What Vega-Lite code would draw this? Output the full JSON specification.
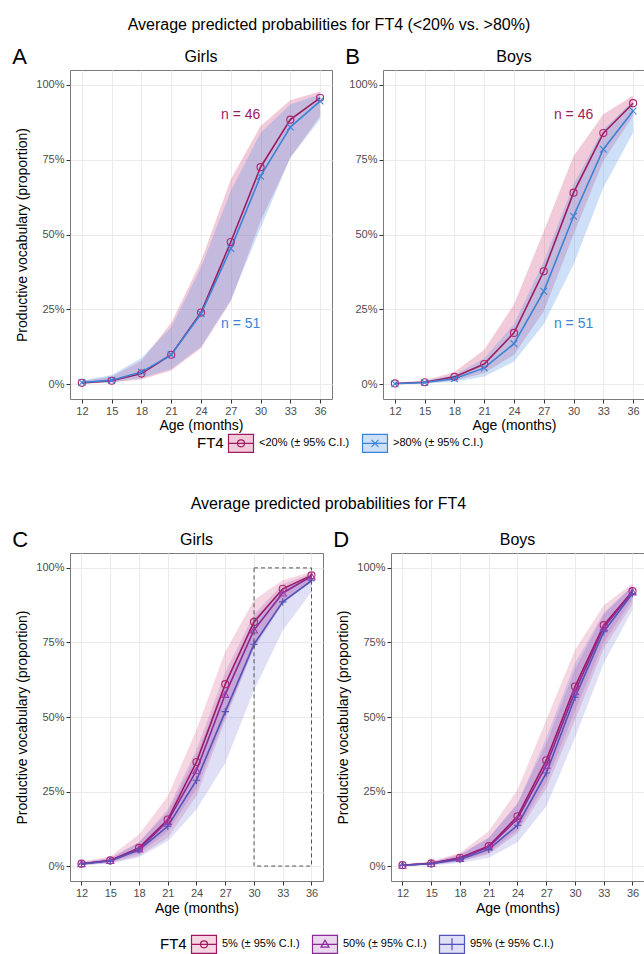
{
  "$schema": "https://vega.github.io/schema/vega-lite/v6.json",
  "background": "white",
  "padding": {"left": 12, "top": 16, "right": 0, "bottom": 0},
  "config": {
    "font": "Liberation Sans",
    "view": {"stroke": "#7a7a7a", "strokeWidth": 1},
    "axis": {
      "labelColor": "#4D4D4D", "labelFontSize": 11, "labelFont": "Liberation Sans",
      "titleFontSize": 14, "titleFontWeight": "normal", "titleColor": "#000000", "titleFont": "Liberation Sans",
      "gridColor": "#EBEBEB", "gridWidth": 1, "domain": false,
      "tickColor": "#333333", "tickSize": 4, "labelPadding": 2, "labelFlush": false, "labelOverlap": false
    },
    "title": {"fontWeight": "normal", "fontSize": 16, "color": "#000000", "font": "Liberation Sans"},
    "legend": {
      "labelFontSize": 11, "labelColor": "#000000", "titleFontSize": 15, "titleFontWeight": "normal",
      "titleColor": "#000000", "symbolSize": 400, "columnPadding": 10, "labelOffset": 7, "titlePadding": 6
    }
  },
  "datasets": {
    "s1": [
      {"sex": "Girls", "group": "<20% (± 95% C.I.)", "age": 12, "est": 0.004, "lo": 0.001, "hi": 0.010},
      {"sex": "Girls", "group": "<20% (± 95% C.I.)", "age": 15, "est": 0.011, "lo": 0.005, "hi": 0.025},
      {"sex": "Girls", "group": "<20% (± 95% C.I.)", "age": 18, "est": 0.035, "lo": 0.015, "hi": 0.078},
      {"sex": "Girls", "group": "<20% (± 95% C.I.)", "age": 21, "est": 0.098, "lo": 0.045, "hi": 0.205},
      {"sex": "Girls", "group": "<20% (± 95% C.I.)", "age": 24, "est": 0.239, "lo": 0.120, "hi": 0.410},
      {"sex": "Girls", "group": "<20% (± 95% C.I.)", "age": 27, "est": 0.475, "lo": 0.277, "hi": 0.684},
      {"sex": "Girls", "group": "<20% (± 95% C.I.)", "age": 30, "est": 0.725, "lo": 0.545, "hi": 0.863},
      {"sex": "Girls", "group": "<20% (± 95% C.I.)", "age": 33, "est": 0.884, "lo": 0.757, "hi": 0.949},
      {"sex": "Girls", "group": "<20% (± 95% C.I.)", "age": 36, "est": 0.957, "lo": 0.896, "hi": 0.978},
      {"sex": "Girls", "group": ">80% (± 95% C.I.)", "age": 12, "est": 0.005, "lo": 0.002, "hi": 0.012},
      {"sex": "Girls", "group": ">80% (± 95% C.I.)", "age": 15, "est": 0.013, "lo": 0.006, "hi": 0.030},
      {"sex": "Girls", "group": ">80% (± 95% C.I.)", "age": 18, "est": 0.040, "lo": 0.020, "hi": 0.087},
      {"sex": "Girls", "group": ">80% (± 95% C.I.)", "age": 21, "est": 0.098, "lo": 0.050, "hi": 0.190},
      {"sex": "Girls", "group": ">80% (± 95% C.I.)", "age": 24, "est": 0.235, "lo": 0.125, "hi": 0.390},
      {"sex": "Girls", "group": ">80% (± 95% C.I.)", "age": 27, "est": 0.453, "lo": 0.280, "hi": 0.645},
      {"sex": "Girls", "group": ">80% (± 95% C.I.)", "age": 30, "est": 0.695, "lo": 0.522, "hi": 0.840},
      {"sex": "Girls", "group": ">80% (± 95% C.I.)", "age": 33, "est": 0.859, "lo": 0.757, "hi": 0.935},
      {"sex": "Girls", "group": ">80% (± 95% C.I.)", "age": 36, "est": 0.946, "lo": 0.885, "hi": 0.969},
      {"sex": "Boys", "group": "<20% (± 95% C.I.)", "age": 12, "est": 0.002, "lo": 0.001, "hi": 0.005},
      {"sex": "Boys", "group": "<20% (± 95% C.I.)", "age": 15, "est": 0.006, "lo": 0.003, "hi": 0.012},
      {"sex": "Boys", "group": "<20% (± 95% C.I.)", "age": 18, "est": 0.024, "lo": 0.012, "hi": 0.040},
      {"sex": "Boys", "group": "<20% (± 95% C.I.)", "age": 21, "est": 0.067, "lo": 0.037, "hi": 0.115},
      {"sex": "Boys", "group": "<20% (± 95% C.I.)", "age": 24, "est": 0.171, "lo": 0.098, "hi": 0.266},
      {"sex": "Boys", "group": "<20% (± 95% C.I.)", "age": 27, "est": 0.377, "lo": 0.243, "hi": 0.511},
      {"sex": "Boys", "group": "<20% (± 95% C.I.)", "age": 30, "est": 0.640, "lo": 0.500, "hi": 0.762},
      {"sex": "Boys", "group": "<20% (± 95% C.I.)", "age": 33, "est": 0.839, "lo": 0.746, "hi": 0.902},
      {"sex": "Boys", "group": "<20% (± 95% C.I.)", "age": 36, "est": 0.939, "lo": 0.896, "hi": 0.965},
      {"sex": "Boys", "group": ">80% (± 95% C.I.)", "age": 12, "est": 0.001, "lo": 0.000, "hi": 0.003},
      {"sex": "Boys", "group": ">80% (± 95% C.I.)", "age": 15, "est": 0.005, "lo": 0.002, "hi": 0.010},
      {"sex": "Boys", "group": ">80% (± 95% C.I.)", "age": 18, "est": 0.018, "lo": 0.008, "hi": 0.030},
      {"sex": "Boys", "group": ">80% (± 95% C.I.)", "age": 21, "est": 0.054, "lo": 0.025, "hi": 0.085},
      {"sex": "Boys", "group": ">80% (± 95% C.I.)", "age": 24, "est": 0.135, "lo": 0.075, "hi": 0.200},
      {"sex": "Boys", "group": ">80% (± 95% C.I.)", "age": 27, "est": 0.310, "lo": 0.200, "hi": 0.410},
      {"sex": "Boys", "group": ">80% (± 95% C.I.)", "age": 30, "est": 0.561, "lo": 0.400, "hi": 0.668},
      {"sex": "Boys", "group": ">80% (± 95% C.I.)", "age": 33, "est": 0.785, "lo": 0.656, "hi": 0.852},
      {"sex": "Boys", "group": ">80% (± 95% C.I.)", "age": 36, "est": 0.913, "lo": 0.840, "hi": 0.946}
    ],
    "s2": [
      {"sex": "Girls", "group": "5% (± 95% C.I.)", "age": 12, "est": 0.008, "lo": 0.003, "hi": 0.015},
      {"sex": "Girls", "group": "5% (± 95% C.I.)", "age": 15, "est": 0.019, "lo": 0.010, "hi": 0.032},
      {"sex": "Girls", "group": "5% (± 95% C.I.)", "age": 18, "est": 0.061, "lo": 0.035, "hi": 0.106},
      {"sex": "Girls", "group": "5% (± 95% C.I.)", "age": 21, "est": 0.156, "lo": 0.095, "hi": 0.234},
      {"sex": "Girls", "group": "5% (± 95% C.I.)", "age": 24, "est": 0.349, "lo": 0.235, "hi": 0.457},
      {"sex": "Girls", "group": "5% (± 95% C.I.)", "age": 27, "est": 0.610, "lo": 0.490, "hi": 0.719},
      {"sex": "Girls", "group": "5% (± 95% C.I.)", "age": 30, "est": 0.819, "lo": 0.736, "hi": 0.892},
      {"sex": "Girls", "group": "5% (± 95% C.I.)", "age": 33, "est": 0.930, "lo": 0.890, "hi": 0.959},
      {"sex": "Girls", "group": "5% (± 95% C.I.)", "age": 36, "est": 0.975, "lo": 0.958, "hi": 0.987},
      {"sex": "Girls", "group": "50% (± 95% C.I.)", "age": 12, "est": 0.008, "lo": 0.004, "hi": 0.012},
      {"sex": "Girls", "group": "50% (± 95% C.I.)", "age": 15, "est": 0.019, "lo": 0.013, "hi": 0.026},
      {"sex": "Girls", "group": "50% (± 95% C.I.)", "age": 18, "est": 0.058, "lo": 0.042, "hi": 0.080},
      {"sex": "Girls", "group": "50% (± 95% C.I.)", "age": 21, "est": 0.150, "lo": 0.115, "hi": 0.190},
      {"sex": "Girls", "group": "50% (± 95% C.I.)", "age": 24, "est": 0.321, "lo": 0.260, "hi": 0.390},
      {"sex": "Girls", "group": "50% (± 95% C.I.)", "age": 27, "est": 0.576, "lo": 0.500, "hi": 0.650},
      {"sex": "Girls", "group": "50% (± 95% C.I.)", "age": 30, "est": 0.792, "lo": 0.730, "hi": 0.845},
      {"sex": "Girls", "group": "50% (± 95% C.I.)", "age": 33, "est": 0.916, "lo": 0.880, "hi": 0.945},
      {"sex": "Girls", "group": "50% (± 95% C.I.)", "age": 36, "est": 0.972, "lo": 0.958, "hi": 0.982},
      {"sex": "Girls", "group": "95% (± 95% C.I.)", "age": 12, "est": 0.007, "lo": 0.003, "hi": 0.012},
      {"sex": "Girls", "group": "95% (± 95% C.I.)", "age": 15, "est": 0.017, "lo": 0.009, "hi": 0.026},
      {"sex": "Girls", "group": "95% (± 95% C.I.)", "age": 18, "est": 0.054, "lo": 0.030, "hi": 0.080},
      {"sex": "Girls", "group": "95% (± 95% C.I.)", "age": 21, "est": 0.134, "lo": 0.084, "hi": 0.180},
      {"sex": "Girls", "group": "95% (± 95% C.I.)", "age": 24, "est": 0.288, "lo": 0.190, "hi": 0.370},
      {"sex": "Girls", "group": "95% (± 95% C.I.)", "age": 27, "est": 0.518, "lo": 0.346, "hi": 0.620},
      {"sex": "Girls", "group": "95% (± 95% C.I.)", "age": 30, "est": 0.744, "lo": 0.590, "hi": 0.830},
      {"sex": "Girls", "group": "95% (± 95% C.I.)", "age": 33, "est": 0.886, "lo": 0.790, "hi": 0.930},
      {"sex": "Girls", "group": "95% (± 95% C.I.)", "age": 36, "est": 0.957, "lo": 0.920, "hi": 0.975},
      {"sex": "Boys", "group": "5% (± 95% C.I.)", "age": 12, "est": 0.003, "lo": 0.001, "hi": 0.006},
      {"sex": "Boys", "group": "5% (± 95% C.I.)", "age": 15, "est": 0.009, "lo": 0.004, "hi": 0.015},
      {"sex": "Boys", "group": "5% (± 95% C.I.)", "age": 18, "est": 0.028, "lo": 0.015, "hi": 0.045},
      {"sex": "Boys", "group": "5% (± 95% C.I.)", "age": 21, "est": 0.067, "lo": 0.040, "hi": 0.117},
      {"sex": "Boys", "group": "5% (± 95% C.I.)", "age": 24, "est": 0.167, "lo": 0.110, "hi": 0.256},
      {"sex": "Boys", "group": "5% (± 95% C.I.)", "age": 27, "est": 0.355, "lo": 0.260, "hi": 0.490},
      {"sex": "Boys", "group": "5% (± 95% C.I.)", "age": 30, "est": 0.602, "lo": 0.490, "hi": 0.725},
      {"sex": "Boys", "group": "5% (± 95% C.I.)", "age": 33, "est": 0.808, "lo": 0.730, "hi": 0.875},
      {"sex": "Boys", "group": "5% (± 95% C.I.)", "age": 36, "est": 0.922, "lo": 0.880, "hi": 0.948},
      {"sex": "Boys", "group": "50% (± 95% C.I.)", "age": 12, "est": 0.003, "lo": 0.001, "hi": 0.005},
      {"sex": "Boys", "group": "50% (± 95% C.I.)", "age": 15, "est": 0.009, "lo": 0.005, "hi": 0.013},
      {"sex": "Boys", "group": "50% (± 95% C.I.)", "age": 18, "est": 0.026, "lo": 0.016, "hi": 0.040},
      {"sex": "Boys", "group": "50% (± 95% C.I.)", "age": 21, "est": 0.064, "lo": 0.045, "hi": 0.095},
      {"sex": "Boys", "group": "50% (± 95% C.I.)", "age": 24, "est": 0.159, "lo": 0.120, "hi": 0.210},
      {"sex": "Boys", "group": "50% (± 95% C.I.)", "age": 27, "est": 0.338, "lo": 0.280, "hi": 0.410},
      {"sex": "Boys", "group": "50% (± 95% C.I.)", "age": 30, "est": 0.585, "lo": 0.520, "hi": 0.660},
      {"sex": "Boys", "group": "50% (± 95% C.I.)", "age": 33, "est": 0.800, "lo": 0.750, "hi": 0.845},
      {"sex": "Boys", "group": "50% (± 95% C.I.)", "age": 36, "est": 0.920, "lo": 0.895, "hi": 0.940},
      {"sex": "Boys", "group": "95% (± 95% C.I.)", "age": 12, "est": 0.003, "lo": 0.001, "hi": 0.005},
      {"sex": "Boys", "group": "95% (± 95% C.I.)", "age": 15, "est": 0.008, "lo": 0.003, "hi": 0.013},
      {"sex": "Boys", "group": "95% (± 95% C.I.)", "age": 18, "est": 0.022, "lo": 0.010, "hi": 0.038},
      {"sex": "Boys", "group": "95% (± 95% C.I.)", "age": 21, "est": 0.056, "lo": 0.028, "hi": 0.095},
      {"sex": "Boys", "group": "95% (± 95% C.I.)", "age": 24, "est": 0.137, "lo": 0.080, "hi": 0.210},
      {"sex": "Boys", "group": "95% (± 95% C.I.)", "age": 27, "est": 0.312, "lo": 0.200, "hi": 0.430},
      {"sex": "Boys", "group": "95% (± 95% C.I.)", "age": 30, "est": 0.566, "lo": 0.430, "hi": 0.680},
      {"sex": "Boys", "group": "95% (± 95% C.I.)", "age": 33, "est": 0.786, "lo": 0.680, "hi": 0.850},
      {"sex": "Boys", "group": "95% (± 95% C.I.)", "age": 36, "est": 0.914, "lo": 0.860, "hi": 0.940}
    ]
  },
  "resolve": {
    "scale": {"fill": "independent", "stroke": "independent"},
    "legend": {"fill": "independent"}
  },
  "spacing": 40,
  "vconcat": [
    {
      "title": {"text": "Average predicted probabilities for FT4 (<20% vs. >80%)", "anchor": "middle", "offset": 13},
      "spacing": 12,
      "hconcat": [
        {
          "title": {"text": "A", "anchor": "start", "fontSize": 22, "offset": -20, "dx": -3},
          "vconcat": [
            {
              "width": 262, "height": 329,
              "title": {"text": "Girls", "frame": "group", "offset": 5},
              "data": {"name": "s1"},
              "transform": [{"filter": "datum.sex === 'Girls'"}],
              "layer": [
                {
                  "mark": {"type": "area", "fillOpacity": 0.28},
                  "encoding": {
                    "x": {"field": "age", "type": "quantitative", "scale": {"domain": [10.8, 37.2], "nice": false, "zero": false}, "axis": {"values": [12, 15, 18, 21, 24, 27, 30, 33, 36], "title": "Age (months)", "titlePadding": 2, "labelOverlap": false}},
                    "y": {"field": "lo", "type": "quantitative", "stack": null, "scale": {"domain": [-0.05, 1.05], "nice": false, "zero": false}, "axis": {"values": [0, 0.25, 0.5, 0.75, 1], "format": ".0%", "title": "Productive vocabulary (proportion)", "titlePadding": 6}},
                    "y2": {"field": "hi"},
                    "fill": {"field": "group", "type": "nominal", "scale": {"domain": ["<20% (± 95% C.I.)", ">80% (± 95% C.I.)"], "range": ["#D1457F", "#4A90E2"]},
                      "legend": {"title": "FT4", "orient": "none", "legendX": 127, "legendY": 362, "direction": "horizontal", "titleOrient": "left",
                        "encode": {"symbols": {"update": {
                          "shape": {"signal": "datum.index === 0 ? 'M-1.25,-0.9H1.25V0.9H-1.25Z M-1.25,0H1.25 M0.35,0A0.35,0.35 0 1 1 -0.35,0A0.35,0.35 0 1 1 0.35,0' : 'M-1.25,-0.9H1.25V0.9H-1.25Z M-1.25,0H1.25 M-0.35,-0.35L0.35,0.35M-0.35,0.35L0.35,-0.35'"},
                          "stroke": {"signal": "datum.index === 0 ? '#C0307A' : '#3C83D8'"},
                          "fillOpacity": {"value": 0.28},
                          "strokeWidth": {"value": 1.2}
                        }}}}}
                  }
                },
                {
                  "mark": {"type": "line", "strokeWidth": 1.6},
                  "encoding": {
                    "x": {"field": "age", "type": "quantitative", "axis": {"values": [12, 15, 18, 21, 24, 27, 30, 33, 36], "title": "Age (months)", "titlePadding": 2, "labelOverlap": false}},
                    "y": {"field": "est", "type": "quantitative", "axis": {"values": [0, 0.25, 0.5, 0.75, 1], "format": ".0%", "title": "Productive vocabulary (proportion)", "titlePadding": 6}},
                    "stroke": {"field": "group", "type": "nominal", "scale": {"domain": ["<20% (± 95% C.I.)", ">80% (± 95% C.I.)"], "range": ["#9C1C5F", "#3C83D8"]}, "legend": null}
                  }
                },
                {
                  "transform": [{"filter": {"field": "group", "equal": "<20% (± 95% C.I.)"}}],
                  "mark": {"type": "point", "shape": "circle", "filled": false, "size": 50, "strokeWidth": 1.1, "opacity": 1, "stroke": "#B02570"},
                  "encoding": {
                    "x": {"field": "age", "type": "quantitative", "axis": {"values": [12, 15, 18, 21, 24, 27, 30, 33, 36], "title": "Age (months)", "titlePadding": 2, "labelOverlap": false}},
                    "y": {"field": "est", "type": "quantitative", "axis": {"values": [0, 0.25, 0.5, 0.75, 1], "format": ".0%", "title": "Productive vocabulary (proportion)", "titlePadding": 6}}
                  }
                },
                {
                  "transform": [{"filter": {"field": "group", "equal": ">80% (± 95% C.I.)"}}],
                  "mark": {"type": "point", "shape": "M-1,-1L1,1M-1,1L1,-1", "filled": false, "size": 45, "strokeWidth": 1.1, "opacity": 1, "stroke": "#3C83D8"},
                  "encoding": {
                    "x": {"field": "age", "type": "quantitative", "axis": {"values": [12, 15, 18, 21, 24, 27, 30, 33, 36], "title": "Age (months)", "titlePadding": 2, "labelOverlap": false}},
                    "y": {"field": "est", "type": "quantitative", "axis": {"values": [0, 0.25, 0.5, 0.75, 1], "format": ".0%", "title": "Productive vocabulary (proportion)", "titlePadding": 6}}
                  }
                },
                {
                  "data": {"values": [{}]},
                  "mark": {"type": "text", "fontSize": 14, "color": "#9C1C5F"},
                  "encoding": {
                    "x": {"datum": 28, "type": "quantitative", "axis": {"values": [12, 15, 18, 21, 24, 27, 30, 33, 36], "title": "Age (months)", "titlePadding": 2, "labelOverlap": false}},
                    "y": {"datum": 0.9, "type": "quantitative", "axis": {"values": [0, 0.25, 0.5, 0.75, 1], "format": ".0%", "title": "Productive vocabulary (proportion)", "titlePadding": 6}},
                    "text": {"value": "n = 46"}
                  }
                },
                {
                  "data": {"values": [{}]},
                  "mark": {"type": "text", "fontSize": 14, "color": "#3C83D8"},
                  "encoding": {
                    "x": {"datum": 28, "type": "quantitative", "axis": {"values": [12, 15, 18, 21, 24, 27, 30, 33, 36], "title": "Age (months)", "titlePadding": 2, "labelOverlap": false}},
                    "y": {"datum": 0.2, "type": "quantitative", "axis": {"values": [0, 0.25, 0.5, 0.75, 1], "format": ".0%", "title": "Productive vocabulary (proportion)", "titlePadding": 6}},
                    "text": {"value": "n = 51"}
                  }
                }
              ]
            }
          ]
        },
        {
          "title": {"text": "B", "anchor": "start", "fontSize": 22, "offset": -20, "dx": -3},
          "vconcat": [
            {
              "width": 262, "height": 329,
              "title": {"text": "Boys", "frame": "group", "offset": 5},
              "data": {"name": "s1"},
              "transform": [{"filter": "datum.sex === 'Boys'"}],
              "layer": [
                {
                  "mark": {"type": "area", "fillOpacity": 0.28},
                  "encoding": {
                    "x": {"field": "age", "type": "quantitative", "scale": {"domain": [10.8, 37.2], "nice": false, "zero": false}, "axis": {"values": [12, 15, 18, 21, 24, 27, 30, 33, 36], "title": "Age (months)", "titlePadding": 2, "labelOverlap": false}},
                    "y": {"field": "lo", "type": "quantitative", "stack": null, "scale": {"domain": [-0.05, 1.05], "nice": false, "zero": false}, "axis": {"values": [0, 0.25, 0.5, 0.75, 1], "format": ".0%", "title": null}},
                    "y2": {"field": "hi"},
                    "fill": {"field": "group", "type": "nominal", "scale": {"domain": ["<20% (± 95% C.I.)", ">80% (± 95% C.I.)"], "range": ["#D1457F", "#4A90E2"]},
                      "legend": {"title": "FT4", "orient": "none", "legendX": 127, "legendY": 362, "direction": "horizontal", "titleOrient": "left",
                        "encode": {"symbols": {"update": {
                          "shape": {"signal": "datum.index === 0 ? 'M-1.25,-0.9H1.25V0.9H-1.25Z M-1.25,0H1.25 M0.35,0A0.35,0.35 0 1 1 -0.35,0A0.35,0.35 0 1 1 0.35,0' : 'M-1.25,-0.9H1.25V0.9H-1.25Z M-1.25,0H1.25 M-0.35,-0.35L0.35,0.35M-0.35,0.35L0.35,-0.35'"},
                          "stroke": {"signal": "datum.index === 0 ? '#C0307A' : '#3C83D8'"},
                          "fillOpacity": {"value": 0.28},
                          "strokeWidth": {"value": 1.2}
                        }}}}}
                  }
                },
                {
                  "mark": {"type": "line", "strokeWidth": 1.6},
                  "encoding": {
                    "x": {"field": "age", "type": "quantitative", "axis": {"values": [12, 15, 18, 21, 24, 27, 30, 33, 36], "title": "Age (months)", "titlePadding": 2, "labelOverlap": false}},
                    "y": {"field": "est", "type": "quantitative", "axis": {"values": [0, 0.25, 0.5, 0.75, 1], "format": ".0%", "title": null}},
                    "stroke": {"field": "group", "type": "nominal", "scale": {"domain": ["<20% (± 95% C.I.)", ">80% (± 95% C.I.)"], "range": ["#9C1C5F", "#3C83D8"]}, "legend": null}
                  }
                },
                {
                  "transform": [{"filter": {"field": "group", "equal": "<20% (± 95% C.I.)"}}],
                  "mark": {"type": "point", "shape": "circle", "filled": false, "size": 50, "strokeWidth": 1.1, "opacity": 1, "stroke": "#B02570"},
                  "encoding": {
                    "x": {"field": "age", "type": "quantitative", "axis": {"values": [12, 15, 18, 21, 24, 27, 30, 33, 36], "title": "Age (months)", "titlePadding": 2, "labelOverlap": false}},
                    "y": {"field": "est", "type": "quantitative", "axis": {"values": [0, 0.25, 0.5, 0.75, 1], "format": ".0%", "title": null}}
                  }
                },
                {
                  "transform": [{"filter": {"field": "group", "equal": ">80% (± 95% C.I.)"}}],
                  "mark": {"type": "point", "shape": "M-1,-1L1,1M-1,1L1,-1", "filled": false, "size": 45, "strokeWidth": 1.1, "opacity": 1, "stroke": "#3C83D8"},
                  "encoding": {
                    "x": {"field": "age", "type": "quantitative", "axis": {"values": [12, 15, 18, 21, 24, 27, 30, 33, 36], "title": "Age (months)", "titlePadding": 2, "labelOverlap": false}},
                    "y": {"field": "est", "type": "quantitative", "axis": {"values": [0, 0.25, 0.5, 0.75, 1], "format": ".0%", "title": null}}
                  }
                },
                {
                  "data": {"values": [{}]},
                  "mark": {"type": "text", "fontSize": 14, "color": "#9C1C5F"},
                  "encoding": {
                    "x": {"datum": 30, "type": "quantitative", "axis": {"values": [12, 15, 18, 21, 24, 27, 30, 33, 36], "title": "Age (months)", "titlePadding": 2, "labelOverlap": false}},
                    "y": {"datum": 0.9, "type": "quantitative", "axis": {"values": [0, 0.25, 0.5, 0.75, 1], "format": ".0%", "title": null}},
                    "text": {"value": "n = 46"}
                  }
                },
                {
                  "data": {"values": [{}]},
                  "mark": {"type": "text", "fontSize": 14, "color": "#3C83D8"},
                  "encoding": {
                    "x": {"datum": 30, "type": "quantitative", "axis": {"values": [12, 15, 18, 21, 24, 27, 30, 33, 36], "title": "Age (months)", "titlePadding": 2, "labelOverlap": false}},
                    "y": {"datum": 0.2, "type": "quantitative", "axis": {"values": [0, 0.25, 0.5, 0.75, 1], "format": ".0%", "title": null}},
                    "text": {"value": "n = 51"}
                  }
                }
              ]
            }
          ]
        }
      ]
    },
    {
      "title": {"text": "Average predicted probabilities for FT4", "anchor": "middle", "offset": 17},
      "spacing": 9,
      "hconcat": [
        {
          "title": {"text": "C", "anchor": "start", "fontSize": 22, "offset": -20, "dx": -3},
          "vconcat": [
            {
              "width": 253, "height": 328,
              "title": {"text": "Girls", "frame": "group", "offset": 5},
              "data": {"name": "s2"},
              "transform": [{"filter": "datum.sex === 'Girls'"}],
              "layer": [
                {
                  "mark": {"type": "area", "fillOpacity": 0.22},
                  "encoding": {
                    "x": {"field": "age", "type": "quantitative", "scale": {"domain": [10.8, 37.2], "nice": false, "zero": false}, "axis": {"values": [12, 15, 18, 21, 24, 27, 30, 33, 36], "title": "Age (months)", "titlePadding": 3, "labelOverlap": false}},
                    "y": {"field": "lo", "type": "quantitative", "stack": null, "scale": {"domain": [-0.05, 1.05], "nice": false, "zero": false}, "axis": {"values": [0, 0.25, 0.5, 0.75, 1], "format": ".0%", "title": "Productive vocabulary (proportion)", "titlePadding": 6}},
                    "y2": {"field": "hi"},
                    "fill": {"field": "group", "type": "nominal", "scale": {"domain": ["5% (± 95% C.I.)", "50% (± 95% C.I.)", "95% (± 95% C.I.)"], "range": ["#D1457F", "#9A4DB0", "#6D6DD6"]},
                      "legend": {"title": "FT4", "orient": "none", "legendX": 90, "legendY": 380, "direction": "horizontal", "titleOrient": "left",
                        "encode": {"symbols": {"update": {
                          "shape": {"signal": "datum.index === 0 ? 'M-1.25,-0.9H1.25V0.9H-1.25Z M-1.25,0H1.25 M0.35,0A0.35,0.35 0 1 1 -0.35,0A0.35,0.35 0 1 1 0.35,0' : datum.index === 1 ? 'M-1.25,-0.9H1.25V0.9H-1.25Z M-1.25,0H1.25 M0,-0.42L0.4,0.28H-0.4Z' : 'M-1.25,-0.9H1.25V0.9H-1.25Z M-1.25,0H1.25 M0,-0.6V0.6'"},
                          "stroke": {"signal": "datum.index === 0 ? '#C0307A' : datum.index === 1 ? '#9A3FAE' : '#5F5FC8'"},
                          "fillOpacity": {"value": 0.22},
                          "strokeWidth": {"value": 1.2}
                        }}}}}
                  }
                },
                {
                  "mark": {"type": "line", "strokeWidth": 1.6},
                  "encoding": {
                    "x": {"field": "age", "type": "quantitative", "axis": {"values": [12, 15, 18, 21, 24, 27, 30, 33, 36], "title": "Age (months)", "titlePadding": 3, "labelOverlap": false}},
                    "y": {"field": "est", "type": "quantitative", "axis": {"values": [0, 0.25, 0.5, 0.75, 1], "format": ".0%", "title": "Productive vocabulary (proportion)", "titlePadding": 6}},
                    "stroke": {"field": "group", "type": "nominal", "scale": {"domain": ["5% (± 95% C.I.)", "50% (± 95% C.I.)", "95% (± 95% C.I.)"], "range": ["#A3175F", "#8B2A96", "#5552B8"]}, "legend": null}
                  }
                },
                {
                  "transform": [{"filter": {"field": "group", "equal": "5% (± 95% C.I.)"}}],
                  "mark": {"type": "point", "shape": "circle", "filled": false, "size": 50, "strokeWidth": 1.1, "opacity": 1, "stroke": "#B02570"},
                  "encoding": {
                    "x": {"field": "age", "type": "quantitative", "axis": {"values": [12, 15, 18, 21, 24, 27, 30, 33, 36], "title": "Age (months)", "titlePadding": 3, "labelOverlap": false}},
                    "y": {"field": "est", "type": "quantitative", "axis": {"values": [0, 0.25, 0.5, 0.75, 1], "format": ".0%", "title": "Productive vocabulary (proportion)", "titlePadding": 6}}
                  }
                },
                {
                  "transform": [{"filter": {"field": "group", "equal": "50% (± 95% C.I.)"}}],
                  "mark": {"type": "point", "shape": "triangle-up", "filled": false, "size": 50, "strokeWidth": 1.1, "opacity": 1, "stroke": "#9A3FAE"},
                  "encoding": {
                    "x": {"field": "age", "type": "quantitative", "axis": {"values": [12, 15, 18, 21, 24, 27, 30, 33, 36], "title": "Age (months)", "titlePadding": 3, "labelOverlap": false}},
                    "y": {"field": "est", "type": "quantitative", "axis": {"values": [0, 0.25, 0.5, 0.75, 1], "format": ".0%", "title": "Productive vocabulary (proportion)", "titlePadding": 6}}
                  }
                },
                {
                  "transform": [{"filter": {"field": "group", "equal": "95% (± 95% C.I.)"}}],
                  "mark": {"type": "point", "shape": "M-1,0H1M0,-1V1", "filled": false, "size": 55, "strokeWidth": 1.1, "opacity": 1, "stroke": "#5552B8"},
                  "encoding": {
                    "x": {"field": "age", "type": "quantitative", "axis": {"values": [12, 15, 18, 21, 24, 27, 30, 33, 36], "title": "Age (months)", "titlePadding": 3, "labelOverlap": false}},
                    "y": {"field": "est", "type": "quantitative", "axis": {"values": [0, 0.25, 0.5, 0.75, 1], "format": ".0%", "title": "Productive vocabulary (proportion)", "titlePadding": 6}}
                  }
                },
                {
                  "data": {"values": [{}]},
                  "mark": {"type": "rect", "filled": false, "stroke": "#555555", "strokeWidth": 1, "strokeDash": [4, 3]},
                  "encoding": {
                    "x": {"datum": 30, "type": "quantitative", "axis": {"values": [12, 15, 18, 21, 24, 27, 30, 33, 36], "title": "Age (months)", "titlePadding": 3, "labelOverlap": false}},
                    "x2": {"datum": 36},
                    "y": {"datum": 0, "type": "quantitative", "axis": {"values": [0, 0.25, 0.5, 0.75, 1], "format": ".0%", "title": "Productive vocabulary (proportion)", "titlePadding": 6}},
                    "y2": {"datum": 1}
                  }
                }
              ]
            }
          ]
        },
        {
          "title": {"text": "D", "anchor": "start", "fontSize": 22, "offset": -20, "dx": -3},
          "vconcat": [
            {
              "width": 253, "height": 328,
              "title": {"text": "Boys", "frame": "group", "offset": 5},
              "data": {"name": "s2"},
              "transform": [{"filter": "datum.sex === 'Boys'"}],
              "layer": [
                {
                  "mark": {"type": "area", "fillOpacity": 0.22},
                  "encoding": {
                    "x": {"field": "age", "type": "quantitative", "scale": {"domain": [10.8, 37.2], "nice": false, "zero": false}, "axis": {"values": [12, 15, 18, 21, 24, 27, 30, 33, 36], "title": "Age (months)", "titlePadding": 3, "labelOverlap": false}},
                    "y": {"field": "lo", "type": "quantitative", "stack": null, "scale": {"domain": [-0.05, 1.05], "nice": false, "zero": false}, "axis": {"values": [0, 0.25, 0.5, 0.75, 1], "format": ".0%", "title": "Productive vocabulary (proportion)", "titlePadding": 6}},
                    "y2": {"field": "hi"},
                    "fill": {"field": "group", "type": "nominal", "scale": {"domain": ["5% (± 95% C.I.)", "50% (± 95% C.I.)", "95% (± 95% C.I.)"], "range": ["#D1457F", "#9A4DB0", "#6D6DD6"]},
                      "legend": {"title": "FT4", "orient": "none", "legendX": 90, "legendY": 380, "direction": "horizontal", "titleOrient": "left",
                        "encode": {"symbols": {"update": {
                          "shape": {"signal": "datum.index === 0 ? 'M-1.25,-0.9H1.25V0.9H-1.25Z M-1.25,0H1.25 M0.35,0A0.35,0.35 0 1 1 -0.35,0A0.35,0.35 0 1 1 0.35,0' : datum.index === 1 ? 'M-1.25,-0.9H1.25V0.9H-1.25Z M-1.25,0H1.25 M0,-0.42L0.4,0.28H-0.4Z' : 'M-1.25,-0.9H1.25V0.9H-1.25Z M-1.25,0H1.25 M0,-0.6V0.6'"},
                          "stroke": {"signal": "datum.index === 0 ? '#C0307A' : datum.index === 1 ? '#9A3FAE' : '#5F5FC8'"},
                          "fillOpacity": {"value": 0.22},
                          "strokeWidth": {"value": 1.2}
                        }}}}}
                  }
                },
                {
                  "mark": {"type": "line", "strokeWidth": 1.6},
                  "encoding": {
                    "x": {"field": "age", "type": "quantitative", "axis": {"values": [12, 15, 18, 21, 24, 27, 30, 33, 36], "title": "Age (months)", "titlePadding": 3, "labelOverlap": false}},
                    "y": {"field": "est", "type": "quantitative", "axis": {"values": [0, 0.25, 0.5, 0.75, 1], "format": ".0%", "title": "Productive vocabulary (proportion)", "titlePadding": 6}},
                    "stroke": {"field": "group", "type": "nominal", "scale": {"domain": ["5% (± 95% C.I.)", "50% (± 95% C.I.)", "95% (± 95% C.I.)"], "range": ["#A3175F", "#8B2A96", "#5552B8"]}, "legend": null}
                  }
                },
                {
                  "transform": [{"filter": {"field": "group", "equal": "5% (± 95% C.I.)"}}],
                  "mark": {"type": "point", "shape": "circle", "filled": false, "size": 50, "strokeWidth": 1.1, "opacity": 1, "stroke": "#B02570"},
                  "encoding": {
                    "x": {"field": "age", "type": "quantitative", "axis": {"values": [12, 15, 18, 21, 24, 27, 30, 33, 36], "title": "Age (months)", "titlePadding": 3, "labelOverlap": false}},
                    "y": {"field": "est", "type": "quantitative", "axis": {"values": [0, 0.25, 0.5, 0.75, 1], "format": ".0%", "title": "Productive vocabulary (proportion)", "titlePadding": 6}}
                  }
                },
                {
                  "transform": [{"filter": {"field": "group", "equal": "50% (± 95% C.I.)"}}],
                  "mark": {"type": "point", "shape": "triangle-up", "filled": false, "size": 50, "strokeWidth": 1.1, "opacity": 1, "stroke": "#9A3FAE"},
                  "encoding": {
                    "x": {"field": "age", "type": "quantitative", "axis": {"values": [12, 15, 18, 21, 24, 27, 30, 33, 36], "title": "Age (months)", "titlePadding": 3, "labelOverlap": false}},
                    "y": {"field": "est", "type": "quantitative", "axis": {"values": [0, 0.25, 0.5, 0.75, 1], "format": ".0%", "title": "Productive vocabulary (proportion)", "titlePadding": 6}}
                  }
                },
                {
                  "transform": [{"filter": {"field": "group", "equal": "95% (± 95% C.I.)"}}],
                  "mark": {"type": "point", "shape": "M-1,0H1M0,-1V1", "filled": false, "size": 55, "strokeWidth": 1.1, "opacity": 1, "stroke": "#5552B8"},
                  "encoding": {
                    "x": {"field": "age", "type": "quantitative", "axis": {"values": [12, 15, 18, 21, 24, 27, 30, 33, 36], "title": "Age (months)", "titlePadding": 3, "labelOverlap": false}},
                    "y": {"field": "est", "type": "quantitative", "axis": {"values": [0, 0.25, 0.5, 0.75, 1], "format": ".0%", "title": "Productive vocabulary (proportion)", "titlePadding": 6}}
                  }
                }
              ]
            }
          ]
        }
      ]
    }
  ]
}
